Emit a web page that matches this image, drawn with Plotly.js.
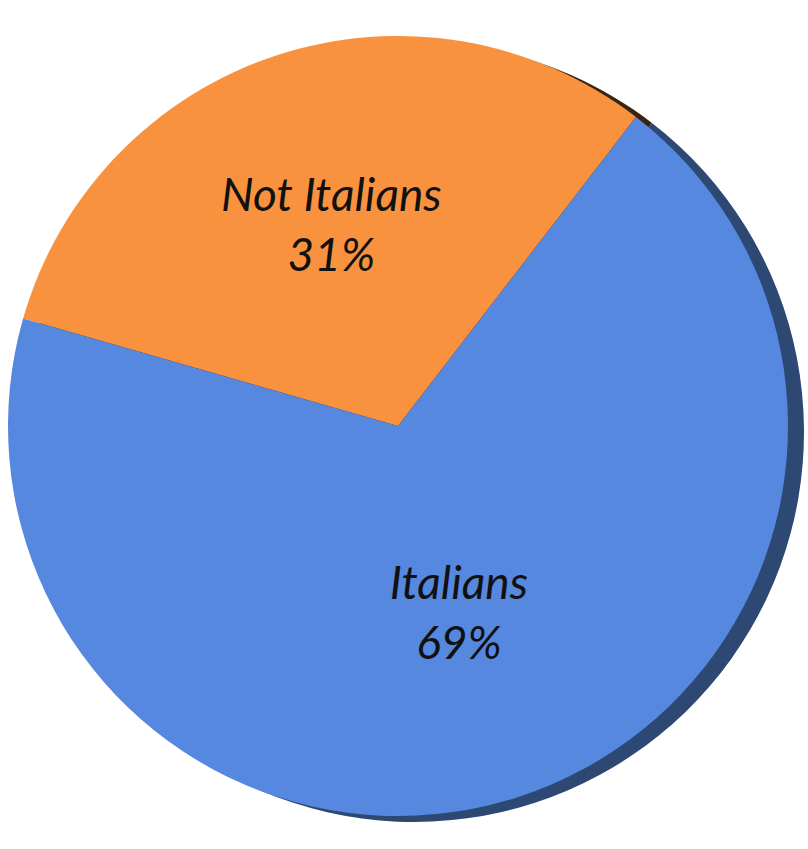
<!DOCTYPE html>
<html>
<head>
<meta charset="utf-8">
<script src="https://cdn.plot.ly/plotly-3.0.1.min.js"></script>
<style>html,body{margin:0;padding:0;background:#fff;}#chart{width:808px;height:849px;}</style>
</head>
<body>
<div id="chart"></div>
<script>
const labels = ["Not Italians", "Italians"];
const values = [31, 69];
const faceColors = ["#F9923F", "#5588DE"];
const sideColors = ["#3A2410", "#2D4873"];

const W = 808, H = 849;
const cx = 398, cy = 426, r = 390;
const dx = 16, dy = 6;
function dom(ox, oy) {
  return {
    x: [(cx + ox - r) / W, (cx + ox + r) / W],
    y: [1 - (cy + oy + r) / H, 1 - (cy + oy - r) / H]
  };
}

const shadow = {
  type: "pie", labels: labels, values: values, sort: false,
  direction: "clockwise", rotation: -74,
  marker: {colors: sideColors, line: {width: 0}},
  textinfo: "none", hoverinfo: "skip", showlegend: false,
  domain: dom(dx, dy)
};
const face = {
  type: "pie", labels: labels, values: values, sort: false,
  direction: "clockwise", rotation: -74,
  marker: {colors: faceColors, line: {width: 0}},
  textinfo: "label+percent", textposition: "inside",
  insidetextorientation: "horizontal",
  texttemplate: "<i>%{label}</i><br><i>%{percent:.0%}</i>",
  textfont: {family: "Lato, 'Open Sans', sans-serif", size: 46, color: "#111111"},
  showlegend: false,
  domain: dom(0, 0)
};

Plotly.newPlot("chart", [shadow, face], {
  width: W, height: H,
  margin: {l: 0, r: 0, t: 0, b: 0},
  paper_bgcolor: "#ffffff",
  showlegend: false,
  uniformtext: {mode: false}
}, {displayModeBar: false, staticPlot: true});
</script>
</body>
</html>
